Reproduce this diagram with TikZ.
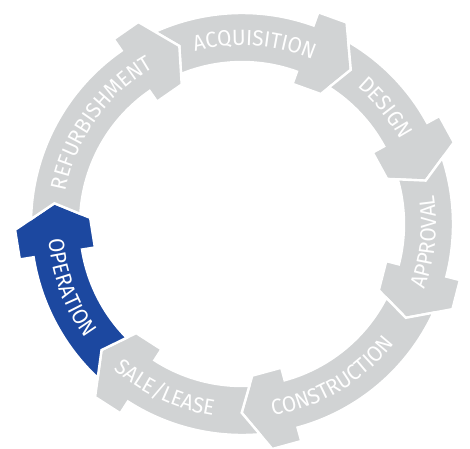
\documentclass[tikz,border=0pt]{standalone}
\usepackage{fontspec}
\usetikzlibrary{decorations.text}
\newfontfamily\cyclefont[FakeStretch=0.94]{Fira Sans}
\newcommand{\stagefont}{\cyclefont\fontsize{22}{22}\selectfont}
\definecolor{stagegrey}{RGB}{209,211,212}
\definecolor{stageblue}{RGB}{28,72,160}

\begin{document}
\begin{tikzpicture}[x=1pt, y=1pt,
    stage/.style={fill=stagegrey, draw=white, line width=2.4pt, line join=miter},
    current/.style={stage, fill=stageblue},
    stagetext/.style={decorate, decoration={text along path, text align=center, text color=white}}]

\useasboundingbox (0,0) rectangle (470,448);

\begin{scope}[shift={(242,224)}]
% arrows: tip of the one before / own tip (degrees)
\foreach \prev/\tip/\kind in {109.4/54.8/stage, 54.8/13.3/stage, 13.3/-29.8/stage,
    -29.8/-90.1/stage, -90.1/-138.1/stage, -138.1/-186.3/current, -186.3/-250.6/stage}
{
  \pgfmathsetmacro{\back}{\tip+15.36}
  \path[\kind] ({\prev+4.95}:211) arc[start angle={\prev+4.95}, end angle=\back, radius=211]
    -- (\back:225) -- ({\back-7.59}:227) -- (\tip:188.74) -- ({\back-11.38}:152)
    -- (\back:149) -- (\back:162) arc[start angle=\back, end angle={\prev+2.71}, radius=162]
    -- (\prev:188.74) -- cycle;
}

% labels along the ring
\foreach \txt/\mid/\turn/\rad in {ACQUISITION/86/1/179, DESIGN/39/1/179, APPROVAL/-5.6/-1/194,
    CONSTRUCTION/-59.5/-1/194, {SALE/LEASE}/245/-1/194, OPERATION/200.4/-1/194,
    REFURBISHMENT/144.5/1/179}
  \path[stagetext, decoration={text/.expanded={|\noexpand\stagefont|\txt}}]
    ({\mid+40*\turn}:\rad) arc[start angle={\mid+40*\turn}, end angle={\mid-40*\turn}, radius=\rad];
\end{scope}
\end{tikzpicture}
\end{document}
